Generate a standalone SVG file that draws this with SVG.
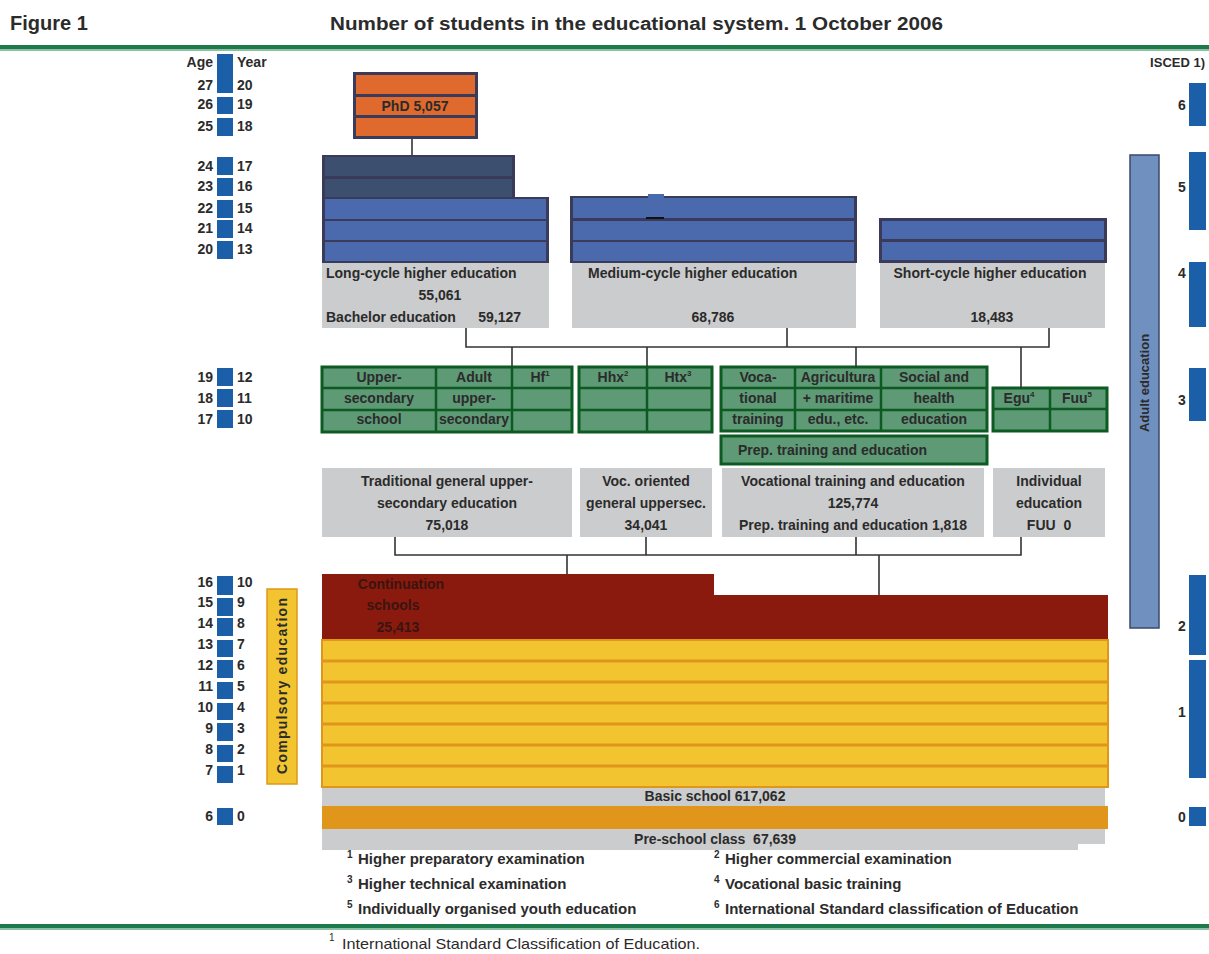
<svg xmlns="http://www.w3.org/2000/svg" width="1209" height="954" viewBox="0 0 1209 954">
<style>
text{font-family:"Liberation Sans",Arial,sans-serif;fill:#2b2b2b}
.b{font-weight:bold;font-size:14px}
.c{text-anchor:middle}
.r{text-anchor:end}
.sq{fill:#1a5fa8}
.frame{fill:#3a3a5a}
.blue{fill:#4a6aad}
.navy{fill:#3c4f6e}
.orng{fill:#e06a2e}
.gray{fill:#cbcccd}
.grn{fill:#5e9a76;stroke:#0d5a22;stroke-width:3}
.gl{stroke:#0d5a22;stroke-width:2.5}
.con{stroke:#333;stroke-width:1.6;fill:none}
.sup{font-size:8px}
.fsup{font-size:10px}
.fn{font-weight:bold;font-size:15px}
</style>

<!-- header -->
<g id="header">
<text x="10" y="30" font-size="20" font-weight="bold">Figure 1</text>
<text x="330" y="30" font-size="18" font-weight="bold" textLength="613" lengthAdjust="spacingAndGlyphs">Number of students in the educational system. 1 October 2006</text>
<rect x="0" y="45" width="1209" height="4.5" fill="#1e7a4a"/>
<rect x="0" y="49.5" width="1209" height="1.5" fill="#8cc2a4"/>
</g>

<!-- age / year column -->
<g id="age-year" class="b">
<rect class="sq" x="217" y="54" width="16" height="39"/>
<rect class="sq" x="217" y="97" width="16" height="17"/>
<rect class="sq" x="217" y="118" width="16" height="18"/>
<rect class="sq" x="217" y="157" width="16" height="18"/>
<rect class="sq" x="217" y="178" width="16" height="18"/>
<rect class="sq" x="217" y="200" width="16" height="18"/>
<rect class="sq" x="217" y="220" width="16" height="18"/>
<rect class="sq" x="217" y="241" width="16" height="18"/>
<rect class="sq" x="217" y="368" width="16" height="18"/>
<rect class="sq" x="217" y="389" width="16" height="18"/>
<rect class="sq" x="217" y="410" width="16" height="18"/>
<rect class="sq" x="217" y="576" width="16" height="19"/>
<rect class="sq" x="217" y="598" width="16" height="18"/>
<rect class="sq" x="217" y="618" width="16" height="18"/>
<rect class="sq" x="217" y="640" width="16" height="17"/>
<rect class="sq" x="217" y="660" width="16" height="18"/>
<rect class="sq" x="217" y="682" width="16" height="17"/>
<rect class="sq" x="217" y="703" width="16" height="17"/>
<rect class="sq" x="217" y="723" width="16" height="18"/>
<rect class="sq" x="217" y="745" width="16" height="17"/>
<rect class="sq" x="217" y="766" width="16" height="17"/>
<rect class="sq" x="217" y="808" width="16" height="17"/>
<g class="r">
<text x="213" y="67">Age</text>
<text x="213" y="90">27</text><text x="213" y="109">26</text><text x="213" y="131">25</text>
<text x="213" y="171">24</text><text x="213" y="191">23</text><text x="213" y="213">22</text><text x="213" y="233">21</text><text x="213" y="254">20</text>
<text x="213" y="382">19</text><text x="213" y="403">18</text><text x="213" y="424">17</text>
<text x="213" y="587">16</text><text x="213" y="607">15</text><text x="213" y="628">14</text><text x="213" y="649">13</text><text x="213" y="670">12</text><text x="213" y="691">11</text><text x="213" y="712">10</text><text x="213" y="733">9</text><text x="213" y="754">8</text><text x="213" y="775">7</text>
<text x="213" y="821">6</text>
</g>
<text x="237" y="67">Year</text>
<text x="237" y="90">20</text><text x="237" y="109">19</text><text x="237" y="131">18</text>
<text x="237" y="171">17</text><text x="237" y="191">16</text><text x="237" y="213">15</text><text x="237" y="233">14</text><text x="237" y="254">13</text>
<text x="237" y="382">12</text><text x="237" y="403">11</text><text x="237" y="424">10</text>
<text x="237" y="587">10</text><text x="237" y="607">9</text><text x="237" y="628">8</text><text x="237" y="649">7</text><text x="237" y="670">6</text><text x="237" y="691">5</text><text x="237" y="712">4</text><text x="237" y="733">3</text><text x="237" y="754">2</text><text x="237" y="775">1</text>
<text x="237" y="821">0</text>
</g>

<!-- ISCED column -->
<g id="isced" class="b">
<text x="1205" y="67" class="r" font-size="13">ISCED 1)</text>
<rect class="sq" x="1189" y="83" width="17" height="43"/>
<rect class="sq" x="1189" y="152" width="17" height="78"/>
<rect class="sq" x="1189" y="262" width="17" height="65"/>
<rect class="sq" x="1189" y="368" width="17" height="53"/>
<rect class="sq" x="1189" y="575" width="17" height="80"/>
<rect class="sq" x="1189" y="660" width="17" height="118"/>
<rect class="sq" x="1189" y="807" width="17" height="19"/>
<g class="c">
<text x="1182" y="110">6</text>
<text x="1182" y="192">5</text>
<text x="1182" y="278">4</text>
<text x="1182" y="405">3</text>
<text x="1182" y="631">2</text>
<text x="1182" y="717">1</text>
<text x="1182" y="822">0</text>
</g>
</g>

<!-- adult education -->
<g id="adult-education">
<rect x="1130" y="155" width="29" height="473" fill="#7090c0" stroke="#3a4a6a" stroke-width="1.5"/>
<text transform="translate(1149,383) rotate(-90)" class="c" font-size="13" font-weight="bold">Adult education</text>
</g>

<!-- compulsory education -->
<g id="compulsory-education">
<rect x="267" y="589" width="30" height="195" fill="#f2c530" stroke="#e0961a" stroke-width="1.5"/>
<text transform="translate(287,686) rotate(-90)" class="c b" textLength="176" lengthAdjust="spacing">Compulsory education</text>
</g>

<!-- PhD -->
<g id="phd">
<rect class="frame" x="353" y="72" width="125" height="67"/>
<rect class="orng" x="356" y="75" width="119" height="19"/>
<rect class="orng" x="356" y="97" width="119" height="18"/>
<rect class="orng" x="356" y="118" width="119" height="18"/>
<text x="415" y="111" class="b c">PhD 5,057</text>
</g>

<!-- Long-cycle -->
<g id="long-cycle">
<rect class="frame" x="322" y="155" width="193" height="43"/>
<rect class="navy" x="325" y="157" width="187" height="19"/>
<rect class="navy" x="325" y="179" width="187" height="18"/>
<rect class="frame" x="322" y="197" width="227" height="66"/>
<rect class="blue" x="325" y="199" width="221" height="20"/>
<rect class="blue" x="325" y="221" width="221" height="19"/>
<rect class="blue" x="325" y="242" width="221" height="19"/>
<rect class="gray" x="322" y="263" width="227" height="65"/>
<text x="326" y="278" class="b">Long-cycle higher education</text>
<text x="440" y="300" class="b c">55,061</text>
<text x="326" y="322" class="b">Bachelor education</text>
<text x="521" y="322" class="b r">59,127</text>
</g>

<!-- Medium-cycle -->
<g id="medium-cycle">
<rect class="frame" x="570" y="196" width="287" height="67"/>
<rect class="blue" x="573" y="198" width="281" height="20"/>
<rect class="blue" x="573" y="221" width="281" height="19"/>
<rect class="blue" x="573" y="242" width="281" height="19"/>
<rect class="blue" x="648" y="194" width="16" height="4"/>
<rect x="646" y="217" width="18" height="2" fill="#111"/>
<rect class="gray" x="572" y="263" width="284" height="65"/>
<text x="588" y="278" class="b">Medium-cycle higher education</text>
<text x="713" y="322" class="b c">68,786</text>
</g>

<!-- Short-cycle -->
<g id="short-cycle">
<rect class="frame" x="879" y="218" width="228" height="45"/>
<rect class="blue" x="882" y="221" width="222" height="18"/>
<rect class="blue" x="882" y="242" width="222" height="18"/>
<rect class="gray" x="880" y="263" width="225" height="65"/>
<text x="990" y="278" class="b c">Short-cycle higher education</text>
<text x="992" y="322" class="b c">18,483</text>
</g>

<!-- Upper secondary school -->
<g id="upper-secondary" class="b c">
<rect class="grn" x="322" y="367" width="250" height="65"/>
<line class="gl" x1="436" y1="367" x2="436" y2="432"/>
<line class="gl" x1="512" y1="367" x2="512" y2="432"/>
<line class="gl" x1="322" y1="388" x2="572" y2="388"/>
<line class="gl" x1="322" y1="410" x2="572" y2="410"/>
<text x="379" y="382">Upper-</text><text x="379" y="403">secondary</text><text x="379" y="424">school</text>
<text x="474" y="382">Adult</text><text x="474" y="403">upper-</text><text x="474" y="424">secondary</text>
<text x="540" y="382">Hf<tspan class="sup" dy="-6">1</tspan></text>
</g>

<!-- Hhx / Htx -->
<g id="hhx-htx" class="b c">
<rect class="grn" x="579" y="367" width="133" height="65"/>
<line class="gl" x1="647" y1="367" x2="647" y2="432"/>
<line class="gl" x1="579" y1="388" x2="712" y2="388"/>
<line class="gl" x1="579" y1="410" x2="712" y2="410"/>
<text x="613" y="382">Hhx<tspan class="sup" dy="-6">2</tspan></text>
<text x="678" y="382">Htx<tspan class="sup" dy="-6">3</tspan></text>
</g>

<!-- Vocational -->
<g id="vocational" class="b c">
<rect class="grn" x="721" y="367" width="266" height="64"/>
<line class="gl" x1="795" y1="367" x2="795" y2="431"/>
<line class="gl" x1="881" y1="367" x2="881" y2="431"/>
<line class="gl" x1="721" y1="388" x2="987" y2="388"/>
<line class="gl" x1="721" y1="410" x2="987" y2="410"/>
<text x="758" y="382">Voca-</text><text x="758" y="403">tional</text><text x="758" y="424">training</text>
<text x="838" y="382">Agricultura</text><text x="838" y="403">+ maritime</text><text x="838" y="424">edu., etc.</text>
<text x="934" y="382">Social and</text><text x="934" y="403">health</text><text x="934" y="424">education</text>
</g>
<g id="prep-training">
<rect class="grn" x="721" y="436" width="266" height="28"/>
<text x="738" y="455" class="b">Prep. training and education</text>
</g>

<!-- Egu / Fuu -->
<g id="egu-fuu" class="b c">
<rect class="grn" x="993" y="388" width="114" height="43"/>
<line class="gl" x1="1050" y1="388" x2="1050" y2="431"/>
<line class="gl" x1="993" y1="409" x2="1107" y2="409"/>
<text x="1019" y="403">Egu<tspan class="sup" dy="-6">4</tspan></text>
<text x="1077" y="403">Fuu<tspan class="sup" dy="-6">5</tspan></text>
</g>

<!-- Upper secondary summary boxes -->
<g id="traditional-general" class="b c">
<rect class="gray" x="322" y="468" width="250" height="69"/>
<text x="447" y="486">Traditional general upper-</text>
<text x="447" y="508">secondary education</text>
<text x="447" y="530">75,018</text>
</g>
<g id="voc-oriented" class="b c">
<rect class="gray" x="580" y="468" width="132" height="69"/>
<text x="646" y="486">Voc. oriented</text>
<text x="646" y="508">general uppersec.</text>
<text x="646" y="530">34,041</text>
</g>
<g id="vocational-training" class="b c">
<rect class="gray" x="722" y="468" width="262" height="69"/>
<text x="853" y="486">Vocational training and education</text>
<text x="853" y="508">125,774</text>
<text x="853" y="530">Prep. training and education 1,818</text>
</g>
<g id="individual-education" class="b c">
<rect class="gray" x="993" y="468" width="112" height="69"/>
<text x="1049" y="486">Individual</text>
<text x="1049" y="508">education</text>
<text x="1049" y="530">FUU&#160;&#160;0</text>
</g>

<!-- Continuation schools -->
<g id="continuation-schools" class="c">
<polygon points="322,574 714,574 714,595 1108,595 1108,640 322,640" fill="#8b1a0e"/>
<text x="401" y="589" class="b" style="fill:#3a1410">Continuation</text>
<text x="393" y="610" class="b" style="fill:#3a1410">schools</text>
<text x="398" y="632" class="b" style="fill:#3a1410">25,413</text>
</g>

<!-- Basic school -->
<g id="basic-school">
<rect x="322" y="640" width="786" height="147" fill="#f2c530" stroke="#e0961a" stroke-width="2"/>
<g stroke="#e0961a" stroke-width="3">
<line x1="322" y1="661" x2="1108" y2="661"/>
<line x1="322" y1="682" x2="1108" y2="682"/>
<line x1="322" y1="703" x2="1108" y2="703"/>
<line x1="322" y1="724" x2="1108" y2="724"/>
<line x1="322" y1="745" x2="1108" y2="745"/>
<line x1="322" y1="766" x2="1108" y2="766"/>
</g>
<rect class="gray" x="322" y="788" width="783" height="18"/>
<text x="715" y="801" class="b c">Basic school 617,062</text>
</g>

<!-- Pre-school -->
<g id="pre-school">
<rect x="322" y="806" width="786" height="23" fill="#e0961a"/>
<polygon class="gray" points="322,829 1105,829 1105,844 1078,844 1078,850 322,850"/>
<text x="715" y="844" class="b c">Pre-school class&#160;&#160;67,639</text>
</g>

<!-- connectors -->
<g id="connectors" class="con">
<line x1="412" y1="139" x2="412" y2="155"/>
<polyline points="466,328 466,347 1049,347 1049,328"/>
<line x1="787" y1="328" x2="787" y2="347"/>
<line x1="512" y1="347" x2="512" y2="367"/>
<line x1="647" y1="347" x2="647" y2="367"/>
<line x1="856" y1="347" x2="856" y2="367"/>
<line x1="1021" y1="347" x2="1021" y2="388"/>
<polyline points="395,537 395,555 1021,555 1021,537"/>
<line x1="646" y1="537" x2="646" y2="555"/>
<line x1="856" y1="537" x2="856" y2="555"/>
<line x1="567" y1="555" x2="567" y2="574"/>
<line x1="879" y1="555" x2="879" y2="595"/>
</g>

<!-- footnotes -->
<g id="footnotes" class="fn">
<text x="347" y="864"><tspan class="fsup" dy="-6">1</tspan><tspan dy="6" x="358">Higher preparatory examination</tspan></text>
<text x="347" y="889"><tspan class="fsup" dy="-6">3</tspan><tspan dy="6" x="358">Higher technical examination</tspan></text>
<text x="347" y="914"><tspan class="fsup" dy="-6">5</tspan><tspan dy="6" x="358">Individually organised youth education</tspan></text>
<text x="714" y="864"><tspan class="fsup" dy="-6">2</tspan><tspan dy="6" x="725">Higher commercial examination</tspan></text>
<text x="714" y="889"><tspan class="fsup" dy="-6">4</tspan><tspan dy="6" x="725">Vocational basic training</tspan></text>
<text x="714" y="914"><tspan class="fsup" dy="-6">6</tspan><tspan dy="6" x="725">International Standard classification of Education</tspan></text>
</g>

<g id="footer">
<rect x="0" y="924" width="1209" height="4.5" fill="#1e7a4a"/>
<rect x="0" y="928.5" width="1209" height="1.5" fill="#8cc2a4"/>
<text x="329" y="941" font-size="10">1</text>
<text x="342" y="949" font-size="15" textLength="358" lengthAdjust="spacingAndGlyphs">International Standard Classification of Education.</text>
</g>
</svg>
